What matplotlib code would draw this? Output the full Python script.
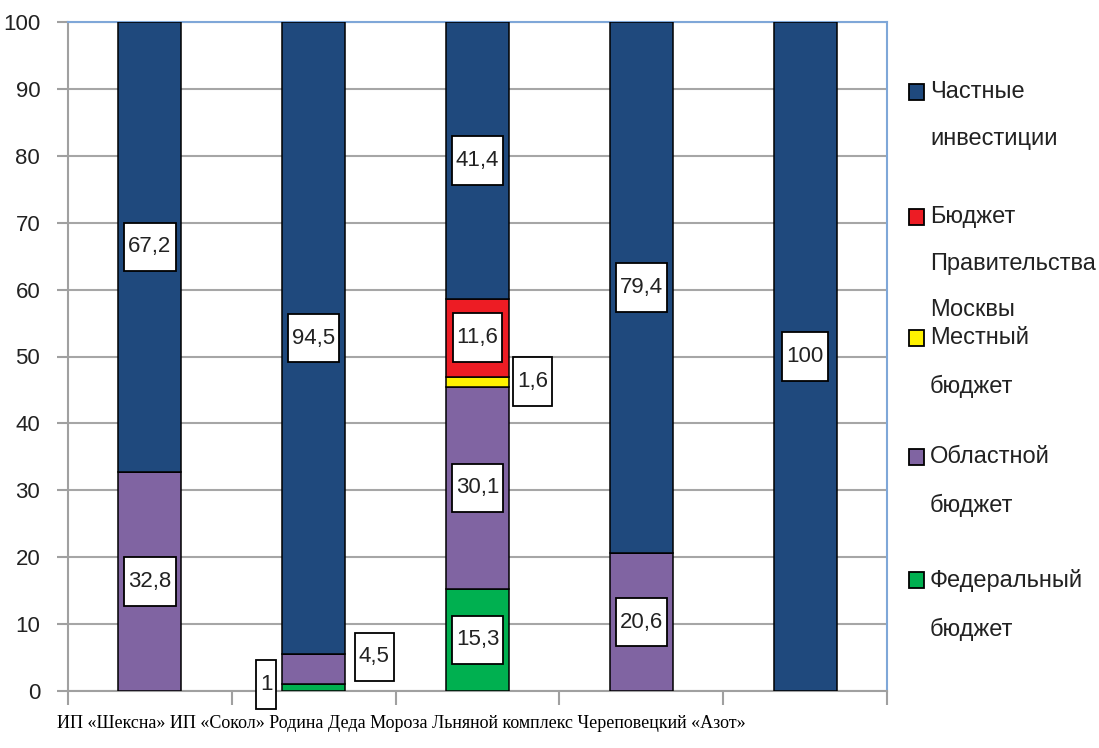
import matplotlib
matplotlib.use("Agg")
import matplotlib.pyplot as plt
from matplotlib.patches import Rectangle
from matplotlib.path import Path
import numpy as np

categories = ["ИП «Шексна»", "ИП «Сокол»", "Родина Деда Мороза",
              "Льняной комплекс", "Череповецкий «Азот»"]
series_names = ["Федеральный\nбюджет", "Областной\nбюджет", "Местный\nбюджет",
                "Бюджет\nПравительства\nМосквы", "Частные\nинвестиции"]
federal = [0, 1, 15.3, 0, 0]
regional = [32.8, 4.5, 30.1, 20.6, 0]
local = [0, 0, 1.6, 0, 0]
moscow = [0, 0, 11.6, 0, 0]
private = [67.2, 94.5, 41.4, 79.4, 100]
yticks = list(range(0, 101, 10))

colors = ["#00B050", "#8064A2", "#FFF200", "#ED1C24", "#1F497D"]
series = [federal, regional, local, moscow, private]

W, H = 1099, 748
fig = plt.figure(figsize=(W / 100, H / 100), dpi=100)
ax = fig.add_axes([68 / W, 1 - 691 / H, (887 - 68) / W, (691 - 22) / H])

SANS = ["Liberation Sans Narrow", "Liberation Sans", "DejaVu Sans"]


def tallbox(x0, y0, width, height, mutation_size):
    hp = 0.18 * mutation_size
    vp = 0.62 * mutation_size
    x0, y0 = x0 - hp, y0 - vp
    x1, y1 = x0 + width + 2 * hp, y0 + height + 2 * vp
    return Path([(x0, y0), (x1, y0), (x1, y1), (x0, y1), (x0, y0)],
                closed=True)


x = np.arange(len(categories))
bw = 0.385
bottom = np.zeros(len(categories))
bars = []
for vals, col in zip(series, colors):
    v = np.array(vals, dtype=float)
    ax.bar(x, v, bw, bottom=bottom, color=col, edgecolor="black",
           linewidth=1.1, zorder=3)
    bars.append((v, bottom.copy()))
    bottom += v

# data labels (a few are placed beside the bar, as in the original)
side = {(0, 1): (-0.29, 1.0), (1, 1): (0.37, 5.1), (2, 2): (0.335, 46.3)}
for si, (v, bot) in enumerate(bars):
    for ci in range(len(categories)):
        if v[ci] <= 0:
            continue
        xx = x[ci]
        yy = bot[ci] + v[ci] / 2
        if (si, ci) in side:
            dx, yy = side[(si, ci)]
            xx = x[ci] + dx
        txt = ("%g" % v[ci]).replace(".", ",")
        ax.text(xx, yy, txt, ha="center", va="center", fontsize=16,
                family=SANS, color="#222222", zorder=5,
                bbox=dict(boxstyle=tallbox, fc="white", ec="black", lw=1.3))

ax.set_xlim(-0.5, len(categories) - 0.5)
ax.set_ylim(0, 100)
ax.set_yticks(yticks)
ax.set_yticklabels([str(t) for t in yticks], family=SANS, fontsize=16, color="#222222")
ax.set_xticks(np.arange(-0.5, len(categories), 1.0))
ax.set_xticklabels([])
ax.tick_params(axis="y", length=8, width=1.5, color="#A0A0A0", pad=12)
ax.tick_params(axis="x", length=10, width=1.5, color="#A0A0A0")
ax.yaxis.grid(True, color="#A6A6A6", linewidth=1.5, zorder=0)
ax.set_axisbelow(True)
for s in ["left", "bottom"]:
    ax.spines[s].set_color("#A0A0A0")
    ax.spines[s].set_linewidth(1.5)
for s in ["top", "right"]:
    ax.spines[s].set_color("#7FA7D8")
    ax.spines[s].set_linewidth(1.5)

# category labels as one line
fig.text(57 / W, 1 - 724 / H, " ".join(categories), ha="left", va="center",
         fontsize=13, family=["Liberation Serif", "DejaVu Serif"], color="black")

# legend
ys = [92, 217, 338, 457, 580]
for i, (name, col) in enumerate(zip(series_names[::-1], colors[::-1])):
    y = ys[i]
    fig.add_artist(Rectangle((909 / W, 1 - (y + 8) / H), 15 / W, 16 / H,
                             transform=fig.transFigure, fc=col, ec="black", lw=1.3))
    fig.text(930 / W, 1 - (y - 11) / H, name, ha="left", va="top", fontsize=17,
             family=SANS, color="#222222", linespacing=2.45)

fig.savefig("out.png", dpi=100)
